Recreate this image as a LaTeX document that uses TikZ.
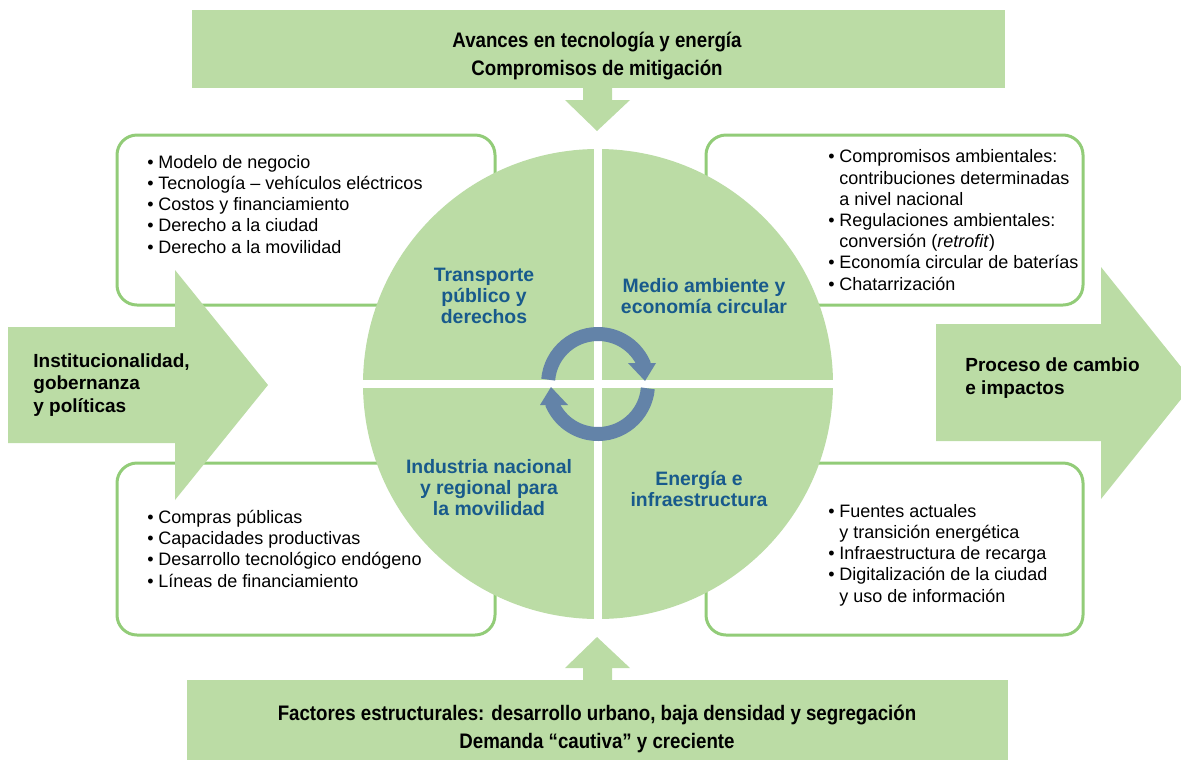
\documentclass[tikz,border=0pt]{standalone}
\usepackage{fontspec}
\usepackage{tikz}
\setmainfont{Liberation Sans}
\newfontfamily\headfont{Liberation Sans}[FakeStretch=0.89]
\definecolor{leaf}{RGB}{187,220,165}
\definecolor{rim}{RGB}{146,204,120}
\definecolor{ink}{RGB}{24,90,140}
\definecolor{ringblue}{RGB}{99,131,168}
\newcommand{\bul}{\makebox[5.5pt][l]{\textbullet}}
\newcommand{\ind}{\hspace*{5.5pt}}

\begin{document}
\begin{tikzpicture}[x=.5pt,y=-.5pt,
  lista/.style={anchor=base west,align=left,inner sep=0pt,font=\fontsize{9}{10.6}\selectfont},
  bubble/.style={anchor=base,align=center,inner sep=0pt,text=ink,font=\fontsize{9.7}{10.3}\selectfont\bfseries},
  flecha/.style={anchor=base west,align=left,inner sep=0pt,font=\fontsize{9.5}{11.2}\selectfont\bfseries},
  banda/.style={anchor=base,align=center,inner sep=0pt,font=\headfont\fontsize{10.5}{14}\selectfont\bfseries},
  caja/.style={draw=rim,line width=1.5pt,fill=white,rounded corners=10pt}]
\useasboundingbox (0,0) rectangle (1181,761);

% boxes behind
\draw[caja] (117,135) rectangle (495,305);
\draw[caja] (706,135) rectangle (1083,305);
\draw[caja] (117,463) rectangle (495,635);
\draw[caja] (706,463) rectangle (1083,635);

% side arrows
\fill[leaf] (8,327)--(175,327)--(175,270)--(268,385)--(175,500)--(175,443)--(8,443)--cycle;
\fill[leaf] (936,324)--(1101,324)--(1101,267)--(1194,383)--(1101,499)--(1101,441)--(936,441)--cycle;

% circle in four parts
\fill[leaf] (598,384) circle (235);
\begin{scope}
\clip (598,384) circle (236);
\fill[white] (350,380) rectangle (850,388);
\fill[white] (594,140) rectangle (602,630);
\end{scope}

% cycle arrows
\begin{scope}[shift={(598,384)},yscale=-1]
\draw[ringblue,line width=7pt] (175:50) arc (175:22:50);
\fill[ringblue] (30,21)--(58,21)--(47,3)--cycle;
\draw[ringblue,line width=7pt] (-5:50) arc (-5:-158:50);
\fill[ringblue] (-30,-21)--(-58,-21)--(-47,-3)--cycle;
\end{scope}

% top and bottom bands
\fill[leaf] (192,10) rectangle (1005,88);
\fill[leaf] (583,88)--(612,88)--(612,100)--(630,100)--(597,131)--(565,100)--(583,100)--cycle;
\fill[leaf] (187,680) rectangle (1008,760);
\fill[leaf] (583,680)--(612,680)--(612,668)--(630,668)--(597,637)--(565,668)--(583,668)--cycle;

% base anchor = last line
\node[banda] (top) at (597,75) {Avances en tecnología y energía\\Compromisos de mitigación};
\node[banda] (bottom) at (597,748) {Factores estructurales: desarrollo urbano, baja densidad y segregación\\Demanda “cautiva” y creciente};

\node[flecha] (inst) at (33,412) {Institucionalidad,\\gobernanza\\y políticas};
\node[flecha] (proc) at (965,394) {Proceso de cambio\\e impactos};

\node[bubble] (trans) at (484,323) {Transporte\\público y\\derechos};
\node[bubble] (medio) at (704,313) {Medio ambiente y\\economía circular};
\node[bubble] (indus) at (489,515) {Industria nacional\\y regional para\\la movilidad};
\node[bubble] (energ) at (699,506) {Energía e\\infraestructura};

\node[lista] (listTL) at (147,253) {\bul Modelo de negocio\\
\bul Tecnología – vehículos eléctricos\\
\bul Costos y financiamiento\\
\bul Derecho a la ciudad\\
\bul Derecho a la movilidad};
\node[lista] (listTR) at (828,290) {\bul Compromisos ambientales:\\
\ind contribuciones determinadas\\
\ind a nivel nacional\\
\bul Regulaciones ambientales:\\
\ind conversión (\textit{retrofit})\\
\bul Economía circular de baterías\\
\bul Chatarrización};
\node[lista] (listBL) at (147,587) {\bul Compras públicas\\
\bul Capacidades productivas\\
\bul Desarrollo tecnológico endógeno\\
\bul Líneas de financiamiento};
\node[lista] (listBR) at (828,602) {\bul Fuentes actuales\\
\ind y transición energética\\
\bul Infraestructura de recarga\\
\bul Digitalización de la ciudad\\
\ind y uso de información};
\end{tikzpicture}
\end{document}
